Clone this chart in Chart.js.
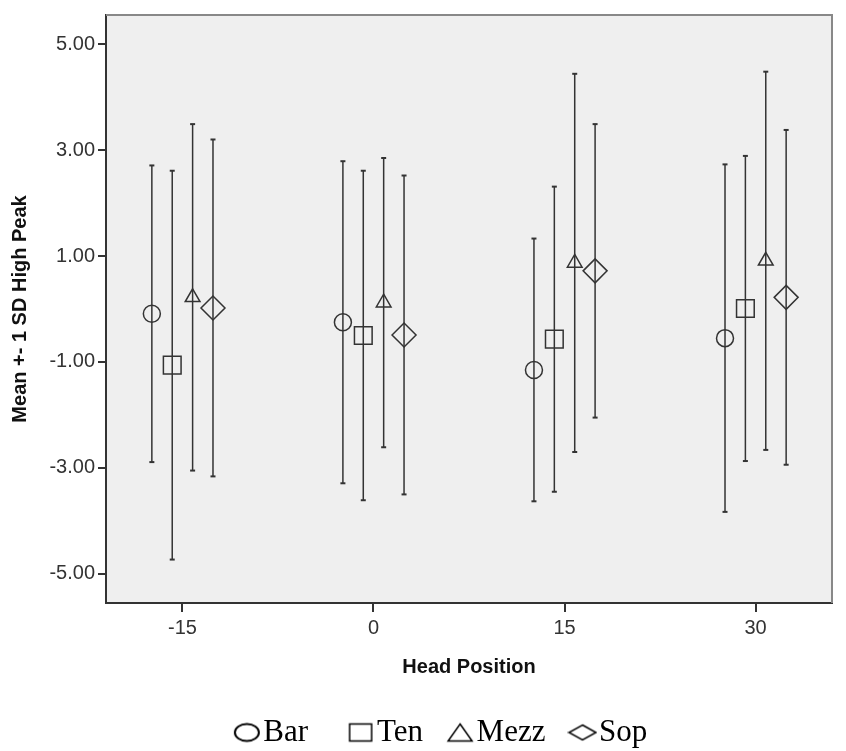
<!DOCTYPE html>
<html>
<head>
<meta charset="utf-8">
<style>
  html, body { margin: 0; padding: 0; background: #fff; }
  #wrap { width: 846px; height: 751px; }
</style>
</head>
<body>
<div id="wrap"><canvas id="myChart"></canvas></div>
<script src="https://cdn.jsdelivr.net/npm/chart.js"></script>
<script>
// head positions (x) and the four voice groups
const headPositions = [-15, 0, 15, 30];
const voices = ['Bar', 'Ten', 'Mezz', 'Sop'];
const legendText = ['Bar  ', 'Ten', 'Mezz', 'Sop'];

// mean and 1 SD of High Peak, one value per head position
const barMean  = [-0.09, -0.25, -1.15, -0.55];
const barSD    = [2.80, 3.04, 2.48, 3.28];
const tenMean  = [-1.06, -0.50, -0.57, 0.01];
const tenSD    = [3.67, 3.11, 2.88, 2.88];
const mezzMean = [0.22, 0.12, 0.87, 0.91];
const mezzSD   = [3.27, 2.73, 3.57, 3.57];
const sopMean  = [0.02, -0.49, 0.72, 0.22];
const sopSD    = [3.18, 3.01, 2.77, 3.16];

const xTicks = [-15, 0, 15, 30];
const yTicks = [-5.00, -3.00, -1.00, 1.00, 3.00, 5.00];

const means = [barMean, tenMean, mezzMean, sopMean];
const sds = [barSD, tenSD, mezzSD, sopSD];
const dodge = [-2.4, -0.8, 0.8, 2.4];        // side by side within a head position
const shapes = ['circle', 'rect', 'triangle', 'rectRot'];
const radii = [8.5, 12.5, 8.5, 12];

const axisFont = { family: "'Liberation Sans', Arial, sans-serif", size: 20 };
const titleFont = { family: "'Liberation Sans', Arial, sans-serif", size: 20, weight: 'bold' };

// legend symbols (they are a bit wider than tall in the original)
function symbol(kind) {
  const c = document.createElement('canvas');
  c.width = 30; c.height = 22;
  const g = c.getContext('2d');
  g.strokeStyle = '#000';
  g.lineWidth = kind === 'circle' ? 2 : 1.5;
  g.beginPath();
  if (kind === 'circle') g.ellipse(15, 11, 12, 8.5, 0, 0, Math.PI * 2);
  if (kind === 'rect') g.rect(4, 2.5, 22, 17);
  if (kind === 'triangle') { g.moveTo(15, 2.5); g.lineTo(27, 19.5); g.lineTo(3, 19.5); g.closePath(); }
  if (kind === 'rectRot') { g.moveTo(15, 3.5); g.lineTo(28.5, 11); g.lineTo(15, 18.5); g.lineTo(1.5, 11); g.closePath(); }
  g.stroke();
  return c;
}
const legendSymbols = shapes.map(symbol);

const datasets = voices.map((v, i) => ({
  label: v,
  data: headPositions.map((hp, j) => ({ x: hp + dodge[i], y: means[i][j], sd: sds[i][j] })),
  pointStyle: shapes[i],
  pointRadius: radii[i],
  pointHoverRadius: radii[i],
  pointBorderWidth: 1.5,
  pointBorderColor: '#333',
  pointBackgroundColor: 'rgba(0,0,0,0)',
  showLine: false
}));

// grey plot background
const plotBackground = {
  id: 'plotBackground',
  beforeDraw(chart) {
    const { ctx, chartArea: a } = chart;
    ctx.save();
    ctx.fillStyle = '#efefef';
    ctx.fillRect(a.left, a.top, a.right - a.left, a.bottom - a.top);
    ctx.restore();
  }
};

// +- 1 SD whiskers, plus the top/right frame
const errorBars = {
  id: 'errorBars',
  beforeDatasetsDraw(chart) {
    const { ctx, chartArea: a, scales: { x, y } } = chart;
    ctx.save();
    ctx.strokeStyle = '#888';
    ctx.lineWidth = 2;
    ctx.beginPath();
    ctx.moveTo(a.left, a.top);
    ctx.lineTo(a.right, a.top);
    ctx.lineTo(a.right, a.bottom);
    ctx.stroke();

    ctx.strokeStyle = '#333';
    chart.data.datasets.forEach(ds => {
      ds.data.forEach(p => {
        const px = x.getPixelForValue(p.x);
        const hi = y.getPixelForValue(p.y + p.sd);
        const lo = y.getPixelForValue(p.y - p.sd);
        ctx.lineWidth = 1.5;
        ctx.beginPath();
        ctx.moveTo(px, hi);
        ctx.lineTo(px, lo);
        ctx.stroke();
        ctx.lineWidth = 2;
        [hi, lo].forEach(py => {
          ctx.beginPath();
          ctx.moveTo(px - 2.5, py);
          ctx.lineTo(px + 2.5, py);
          ctx.stroke();
        });
      });
    });
    ctx.restore();
  }
};

new Chart(document.getElementById('myChart'), {
  type: 'scatter',
  data: { datasets },
  plugins: [plotBackground, errorBars],
  options: {
    responsive: true,
    maintainAspectRatio: false,
    animation: false,
    layout: { padding: { top: 11, right: 3, left: 50, bottom: -7 } },
    plugins: {
      tooltip: { enabled: false },
      legend: {
        position: 'bottom',
        onClick: null,
        labels: {
          usePointStyle: true,
          boxWidth: 2,
          boxHeight: 2,
          padding: 36,
          color: '#000',
          font: { family: "'Liberation Serif', 'Times New Roman', serif", size: 31 },
          generateLabels: chart => chart.data.datasets.map((ds, i) => ({
            text: legendText[i],
            pointStyle: legendSymbols[i],
            fillStyle: 'rgba(0,0,0,0)',
            strokeStyle: '#000',
            lineWidth: 0,
            hidden: false,
            datasetIndex: i
          }))
        }
      }
    },
    scales: {
      x: {
        type: 'linear',
        min: -21,
        max: 36,
        afterBuildTicks: s => { s.ticks = xTicks.map(v => ({ value: v })); },
        afterFit: s => { s.height = 78; },
        grid: { drawOnChartArea: false, drawTicks: true, tickLength: 9, color: '#333', lineWidth: 2 },
        border: { display: true, color: '#333', width: 2 },
        ticks: { color: '#333', font: axisFont, padding: 4, maxRotation: 0 },
        title: { display: true, text: 'Head Position', color: '#111', font: titleFont, padding: { top: 0, bottom: 2 } }
      },
      y: {
        type: 'linear',
        min: -5.55,
        max: 5.55,
        afterBuildTicks: s => { s.ticks = yTicks.map(v => ({ value: v })); },
        afterFit: s => { s.width = 56; },
        grid: { drawOnChartArea: false, drawTicks: true, tickLength: 8, color: '#333', lineWidth: 2 },
        border: { display: true, color: '#333', width: 2 },
        ticks: { color: '#333', font: axisFont, padding: 3, callback: v => v.toFixed(2) },
        title: { display: true, text: 'Mean +- 1 SD High Peak', color: '#111', font: titleFont, padding: { top: -42, bottom: 0 } }
      }
    }
  }
});
</script>
</body>
</html>
